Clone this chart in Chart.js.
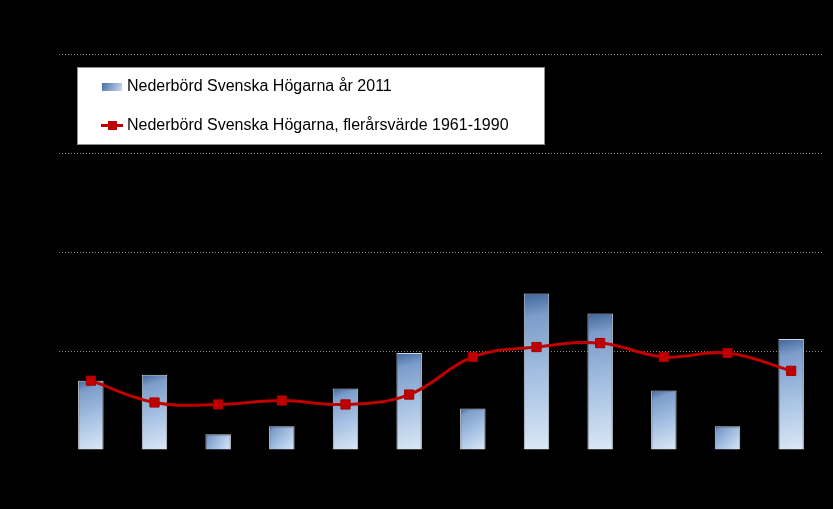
<!DOCTYPE html>
<html>
<head>
<meta charset="utf-8">
<script src="https://cdn.jsdelivr.net/npm/chart.js@4"></script>
<style>
    html, body { margin: 0; padding: 0; background: #000; }
    #wrap { width: 833px; height: 509px; }
</style>
</head>
<body>
<div id="wrap"><canvas id="rainChart" width="833" height="509"></canvas></div>
<script>
const months = ['jan', 'feb', 'mar', 'apr', 'maj', 'jun', 'jul', 'aug', 'sep', 'okt', 'nov', 'dec'];
const rain2011 = [35, 38, 8, 12, 31, 49, 21, 79, 69, 30, 12, 56];
const rainNormal = [35, 24, 23, 25, 23, 28, 47, 52, 54, 47, 49, 40];
const yTicks = [0, 50, 100, 150, 200];

const label2011 = 'Nederbörd Svenska Högarna år 2011';
const labelNormal = 'Nederbörd Svenska Högarna, flerårsvärde 1961-1990';

const BAR_FRACTION = 0.4;

function barGradient(ctx) {
    const chart = ctx.chart;
    if (!chart.chartArea || ctx.type !== 'data') return '#9db9dd';
    const xs = chart.scales.x, ys = chart.scales.y;
    const half = xs.width / months.length * BAR_FRACTION / 2;
    const cx = xs.getPixelForValue(ctx.dataIndex);
    const top = ys.getPixelForValue(ctx.raw);
    const bottom = ys.getPixelForValue(0);
    const g = chart.ctx.createLinearGradient(cx - half, top, cx + half, bottom);
    g.addColorStop(0, '#3f659b');
    g.addColorStop(0.15, '#7c9dca');
    g.addColorStop(0.55, '#a7c2e3');
    g.addColorStop(1, '#dce8f6');
    return g;
}

// legend box drawn inside the plot, like the original
const boxLegend = {
    id: 'boxLegend',
    afterDraw(chart) {
        const c = chart.ctx;
        const ds = chart.data.datasets;
        c.save();
        c.fillStyle = '#ffffff';
        c.fillRect(77, 67.5, 468, 77.5);
        c.strokeStyle = '#8c8c8c';
        c.lineWidth = 1;
        c.strokeRect(77.5, 67.5, 467, 77);

        // bar swatch
        const g = c.createLinearGradient(102, 83, 122, 91);
        g.addColorStop(0, '#4a6fa3');
        g.addColorStop(1, '#c9dbf0');
        c.fillStyle = g;
        c.fillRect(102, 83, 20, 8);

        // line swatch
        c.strokeStyle = '#c00000';
        c.lineWidth = 3;
        c.beginPath();
        c.moveTo(101, 125.5);
        c.lineTo(123, 125.5);
        c.stroke();
        c.fillStyle = '#c00000';
        c.fillRect(108, 121, 9, 9);

        c.fillStyle = '#000';
        c.font = '16px "Liberation Sans", Arial, sans-serif';
        c.textBaseline = 'middle';
        c.fillText(ds[0].label, 127, 87);
        c.fillText(ds[1].label, 127, 126);
        c.restore();
    }
};

const canvas = document.getElementById('rainChart');

new Chart(canvas, {
    data: {
        labels: months,
        datasets: [{
            type: 'bar',
            label: label2011,
            data: rain2011,
            order: 2,
            backgroundColor: barGradient,
            borderColor: '#d0d8e2',
            borderWidth: 1,
            barPercentage: BAR_FRACTION,
            categoryPercentage: 1
        }, {
            type: 'line',
            label: labelNormal,
            data: rainNormal,
            order: 1,
            borderColor: '#c00000',
            borderWidth: 3,
            tension: 0.4,
            pointStyle: 'rect',
            pointRadius: 6.5,
            pointHoverRadius: 6.5,
            pointBackgroundColor: '#c00000',
            pointBorderColor: '#a30000',
            pointBorderWidth: 1
        }]
    },
    options: {
        responsive: false,
        animation: false,
        layout: { padding: { top: 54, right: 10, left: 0, bottom: 0 } },
        plugins: {
            legend: { display: false },
            tooltip: { enabled: false }
        },
        scales: {
            x: {
                grid: { display: false },
                border: { display: false },
                ticks: { color: '#000', font: { size: 14 } },
                afterFit: function (s) { s.height = 59; }
            },
            y: {
                min: 0,
                max: 200,
                afterBuildTicks: function (s) { s.ticks = yTicks.map(v => ({ value: v })); },
                grid: {
                    color: ctx => ctx.tick && ctx.tick.value === 0 ? 'rgba(0,0,0,0)' : '#8a8a8a',
                    lineWidth: 1,
                    drawTicks: false
                },
                border: { display: false, dash: [1, 2] },
                ticks: { color: '#000', font: { size: 14 } },
                afterFit: function (s) { s.width = 59; }
            }
        }
    },
    plugins: [boxLegend]
});
</script>
</body>
</html>
